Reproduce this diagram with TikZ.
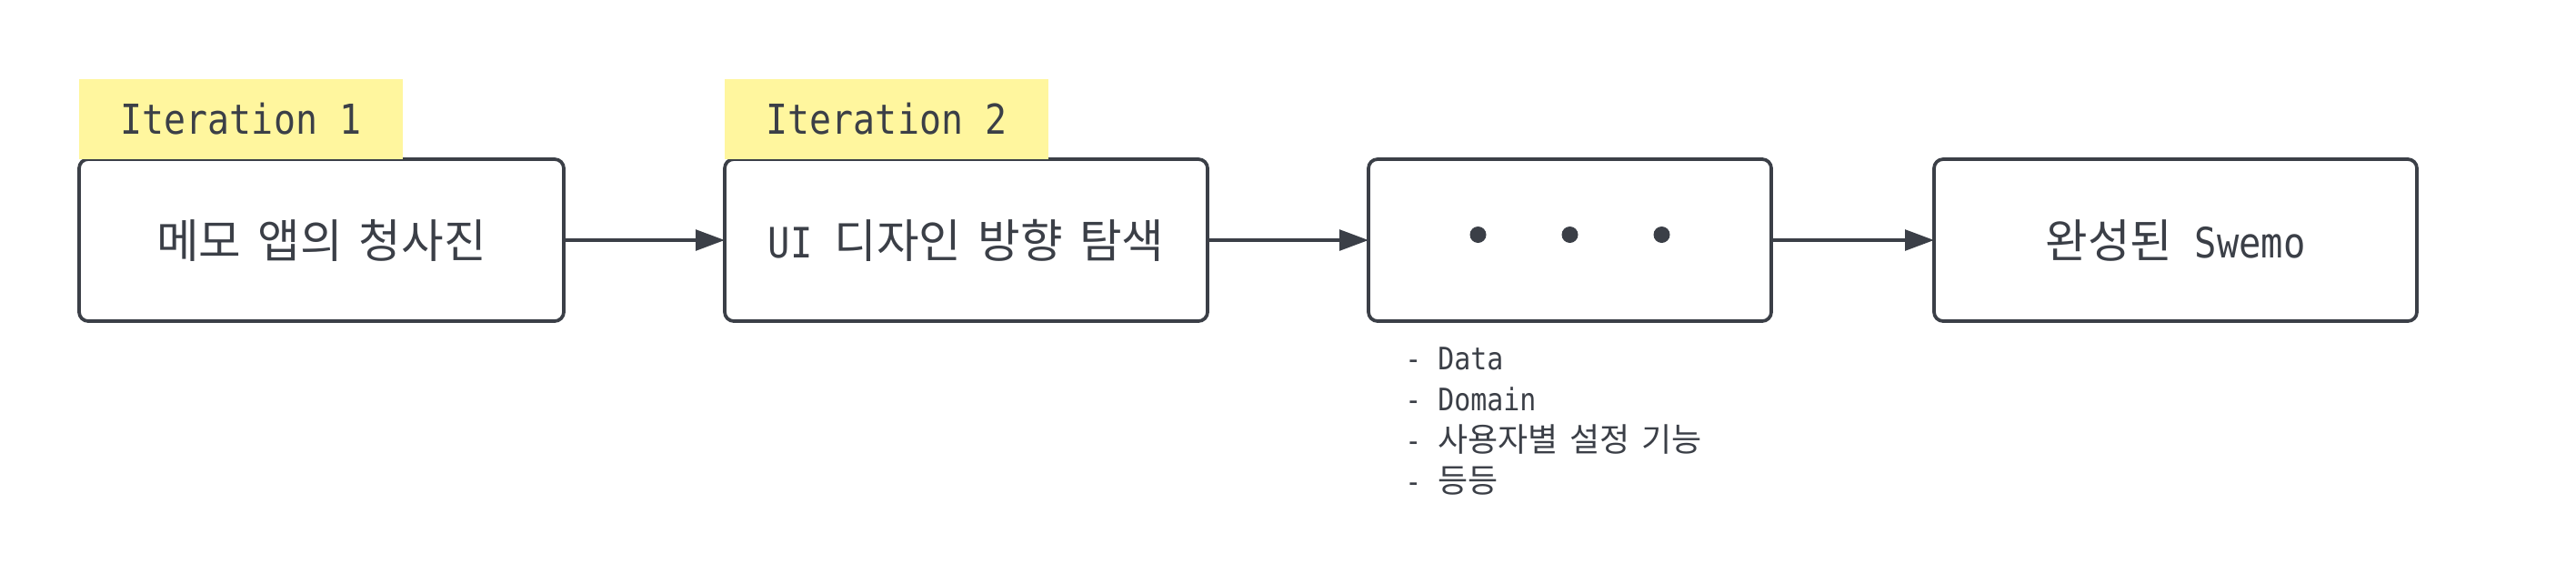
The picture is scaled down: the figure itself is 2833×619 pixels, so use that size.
\documentclass[tikz,border=0pt]{standalone}
\usepackage{fontspec}
\usetikzlibrary{arrows.meta,positioning}
\newfontfamily\mono[FakeStretch=0.88]{DejaVu Sans Mono}
\newfontfamily\kr[WordSpace=2.4]{Noto Sans CJK KR}
\newfontfamily\krl[WordSpace=1.6]{Noto Sans CJK KR}
\definecolor{ink}{RGB}{59,63,71}
\definecolor{note}{RGB}{255,246,158}
\newcommand{\boxfont}{\fontsize{34.5pt}{40pt}\selectfont}
\newcommand{\krbox}[1]{{\kr\fontsize{38pt}{43pt}\selectfont #1}}
\newcommand{\krlist}[1]{{\krl\fontsize{27pt}{32pt}\selectfont #1}}
\begin{document}
\begin{tikzpicture}[x=0.75pt,y=-0.75pt,
  stepbox/.style={draw=ink,line width=2.8pt,rounded corners=7.5pt,
    minimum height=133.5pt,inner sep=0pt,outer sep=0pt,text=ink,
    font=\mono\boxfont},
  tagbox/.style={fill=note,minimum width=267pt,minimum height=66pt,
    inner sep=0pt,outer sep=0pt,text=ink,font=\mono\fontsize{34pt}{40pt}\selectfont},
  arr/.style={draw=ink,line width=2.8pt,-{Triangle[length=24pt,width=17pt]}},
  dotnode/.style={circle,fill=ink,minimum size=13.5pt,inner sep=0pt},
  listline/.style={anchor=base west,inner sep=0pt,text=ink,
    font=\mono\fontsize{25.5pt}{30pt}\selectfont}]
\useasboundingbox (0,0) rectangle (2833,619);
\node[stepbox,minimum width=399.75pt] (b1) at (353.5,264) {\krbox{메모 앱의 청사진}};
\node[stepbox,minimum width=398.25pt] (b2) at (1062.5,264) {UI \krbox{디자인 방향 탐색}};
\node[stepbox,minimum width=332.25pt] (b3) at (1726.5,264) {};
\node[stepbox,minimum width=398.25pt] (b4) at (2392.5,264) {\krbox{완성된} Swemo};
\node[tagbox,anchor=south west] (t1) at (b1.north west) {Iteration 1};
\node[tagbox,anchor=south west] (t2) at (b2.north west) {Iteration 2};
\draw[arr] (b1.east) -- (b2.west);
\draw[arr] (b2.east) -- (b3.west);
\draw[arr] (b3.east) -- (b4.west);
\node[dotnode] (d1) at (1625.5,258) {};
\node[dotnode] (d2) at (1726.5,258) {};
\node[dotnode] (d3) at (1827.5,258) {};
\node[listline] (l1) at (1545,406) {- Data};
\node[listline] (l2) at (1545,451) {- Domain};
\node[listline] (l3) at (1545,496) {- \krlist{사용자별 설정 기능}};
\node[listline] (l4) at (1545,541) {- \krlist{등등}};
\end{tikzpicture}
\end{document}
